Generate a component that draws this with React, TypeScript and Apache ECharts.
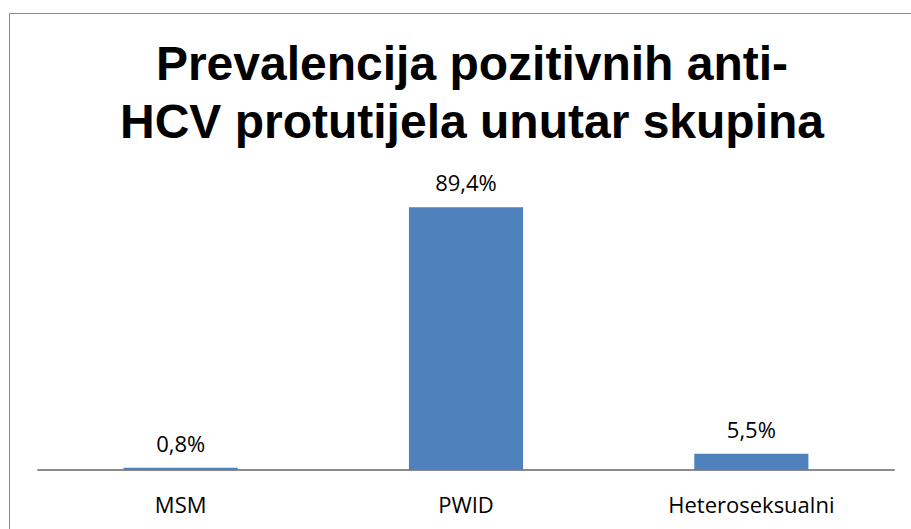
import React, { useEffect, useRef } from "react";
import * as echarts from "echarts";

const categories = ["MSM", "PWID", "Heteroseksualni"];
const values = [0.8, 89.4, 5.5];
const titleText = "Prevalencija pozitivnih anti-\nHCV protutijela unutar skupina";

export default function App() {
  const ref = useRef<HTMLDivElement>(null);
  useEffect(() => {
    document.body.style.margin = "0";
    const chart = echarts.init(ref.current!, null, { renderer: "svg" });
    chart.setOption({
      animation: false,
      backgroundColor: "#ffffff",
      title: {
        text: titleText,
        left: 467,
        top: 29,
        textAlign: "center",
        textStyle: {
          fontFamily: "Liberation Sans",
          fontWeight: "bold",
          fontSize: 48,
          lineHeight: 58,
          color: "#000000",
        },
      },
      graphic: [
        {
          type: "rect",
          shape: { x: 9.5, y: 13.5, width: 1000, height: 1000 },
          style: { fill: "none", stroke: "#888888", lineWidth: 1 },
          silent: true,
        },
      ],
      grid: { left: 38, right: 17, top: 176, bottom: 59 },
      xAxis: {
        type: "category",
        data: categories,
        axisLine: { show: true, lineStyle: { color: "#8c8c8c", width: 2 } },
        axisTick: { show: false },
        axisLabel: {
          margin: 23,
          fontFamily: "Open Sans",
          fontSize: 22,
          color: "#000000",
        },
      },
      yAxis: {
        type: "value",
        min: 0,
        max: 100,
        show: false,
        splitLine: { show: false },
      },
      series: [
        {
          type: "bar",
          data: values,
          barWidth: "40%",
          itemStyle: { color: "#4F81BD" },
          label: {
            show: true,
            position: "top",
            distance: 14,
            fontFamily: "Open Sans",
            fontSize: 22,
            color: "#000000",
            formatter: (p: any) => p.value.toFixed(1).replace(".", ",") + "%",
          },
        },
      ],
    });
    return () => chart.dispose();
  }, []);
  return <div ref={ref} style={{ width: 911, height: 529 }} />;
}
